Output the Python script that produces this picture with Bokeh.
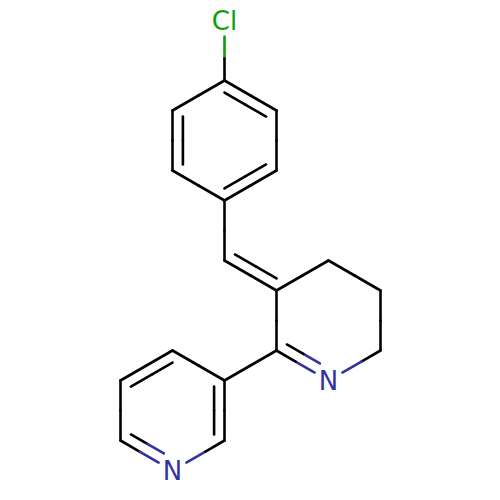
from bokeh.plotting import figure
from bokeh.models import Range1d
from bokeh.core.properties import value
from bokeh.embed import file_html
from bokeh.resources import INLINE
import math

atom_names = ["Cl", "C1", "C2", "C3", "C4", "C5", "C6", "C7", "C8", "C9", "C10",
              "C11", "N1", "C12", "C13", "C14", "C15", "C16", "N2", "C17"]
atom_x = [224, 224, 276, 276, 224, 172, 172, 224, 276, 328, 380,
          380, 328, 276, 224, 172, 120, 120, 172, 224]
atom_y = [20, 80, 110, 170, 200, 170, 110, 260, 290, 260, 290,
          350, 380, 350, 380, 350, 380, 440, 470, 440]
atom_labels = {0: "Cl", 12: "N", 18: "N"}
atom_colors = {0: "#0aa00a", 12: "#33339f", 18: "#33339f"}

single_bonds = [(0, 1), (2, 3), (4, 5), (6, 1), (4, 7), (8, 9), (9, 10), (10, 11),
                (11, 12), (13, 8), (13, 14), (15, 14), (16, 17), (18, 19)]
# (first atom, second atom, atom on the side of the inner line)
double_bonds = [(1, 2, 4), (3, 4, 1), (5, 6, 3), (7, 8, 9), (12, 13, 9),
                (14, 19, 16), (15, 16, 18), (17, 18, 15)]

BLACK = "#000000"
OFFSET, TRIM, LABEL_TRIM = 10.4, 6.0, 16.0

p = figure(width=484, height=484, output_backend="svg", toolbar_location=None,
           x_range=Range1d(0, 484), y_range=Range1d(484, 0), min_border=0,
           background_fill_color="#ffffff", border_fill_color="#ffffff")
p.axis.visible = False
p.grid.visible = False
p.outline_line_color = None

segs = {"x0": [], "y0": [], "x1": [], "y1": [], "c": []}


def add_line(a, b, x0, y0, x1, y1):
    """Draw a line from atom a's end to atom b's end, split in two colours."""
    mx, my = (x0 + x1) / 2, (y0 + y1) / 2
    for (xa, ya, xb, yb, i) in ((x0, y0, mx, my, a), (mx, my, x1, y1, b)):
        segs["x0"].append(xa)
        segs["y0"].append(ya)
        segs["x1"].append(xb)
        segs["y1"].append(yb)
        segs["c"].append(atom_colors.get(i, BLACK))


def trimmed(a, b, ta, tb, ox=0.0, oy=0.0):
    ax, ay, bx, by = atom_x[a], atom_y[a], atom_x[b], atom_y[b]
    L = math.hypot(bx - ax, by - ay)
    ux, uy = (bx - ax) / L, (by - ay) / L
    return (ax + ux * ta + ox, ay + uy * ta + oy, bx - ux * tb + ox, by - uy * tb + oy)


def outer_trim(i):
    return LABEL_TRIM if i in atom_labels else 0.0


for a, b in single_bonds:
    add_line(a, b, *trimmed(a, b, outer_trim(a), outer_trim(b)))

for a, b, side in double_bonds:
    add_line(a, b, *trimmed(a, b, outer_trim(a), outer_trim(b)))
    ax, ay, bx, by = atom_x[a], atom_y[a], atom_x[b], atom_y[b]
    L = math.hypot(bx - ax, by - ay)
    nx, ny = -(by - ay) / L, (bx - ax) / L
    if nx * (atom_x[side] - ax) + ny * (atom_y[side] - ay) < 0:
        nx, ny = -nx, -ny
    ta = LABEL_TRIM if a in atom_labels else TRIM
    tb = LABEL_TRIM if b in atom_labels else TRIM
    add_line(a, b, *trimmed(a, b, ta, tb, nx * OFFSET, ny * OFFSET))

p.segment("x0", "y0", "x1", "y1", source=segs, line_color="c", line_width=2.6,
          line_cap="round")

idx = list(atom_labels)
p.text([atom_x[i] for i in idx], [atom_y[i] for i in idx],
       text=[atom_labels[i] for i in idx],
       text_color=[atom_colors[i] for i in idx],
       text_font=value("DejaVu Sans"), text_font_size="26px",
       text_align="center", text_baseline="middle")

open("out.html", "w").write(file_html(p, INLINE))
